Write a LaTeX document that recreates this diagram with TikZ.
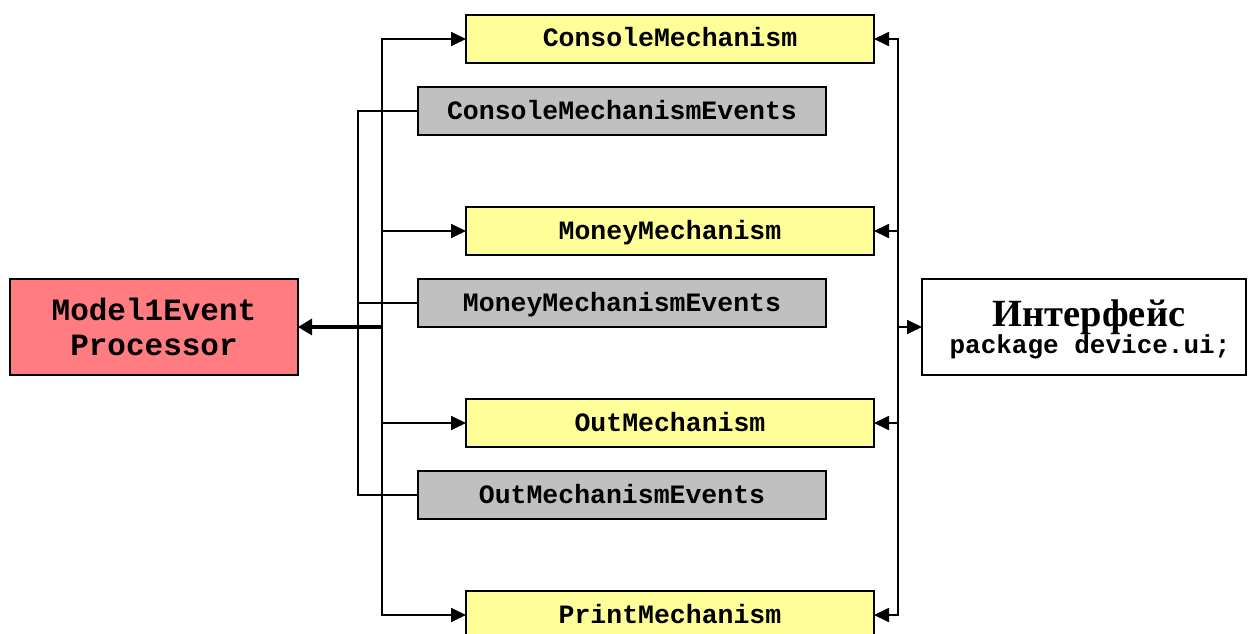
\documentclass[tikz,border=0pt]{standalone}
\usepackage{fontspec}
\setmonofont{Liberation Mono}
\newfontfamily\uiserif{Liberation Serif}
\usetikzlibrary{arrows.meta}
\definecolor{mechyellow}{HTML}{FFFF99}
\definecolor{evgray}{HTML}{C0C0C0}
\definecolor{procred}{HTML}{FF7C80}
\tikzset{
  box/.style={draw=black, line width=1.8pt, outer sep=0pt, inner sep=0pt,
    font=\ttfamily\bfseries\fontsize{26.5}{28}\selectfont, text height=18pt, text depth=2pt},
  mech/.style={box, fill=mechyellow, minimum width=408pt, minimum height=48pt},
  evbox/.style={box, fill=evgray, minimum width=408pt, minimum height=48pt},
  conn/.style={line width=1.8pt, -{Triangle[length=15pt,width=14pt]}},
  plain/.style={line width=1.8pt},
  thickconn/.style={line width=3.2pt, -{Triangle[length=14pt,width=16pt]}},
}
\begin{document}
\begin{tikzpicture}[x=1pt,y=-1pt]
\useasboundingbox (0,0) rectangle (1248,634);
\fill[white] (0,0) rectangle (1248,634);
% mechanisms
\node[mech] (cm) at (670,39) {ConsoleMechanism};
\node[mech] (mm) at (670,231) {MoneyMechanism};
\node[mech] (om) at (670,423) {OutMechanism};
\node[mech] (pm) at (670,615) {PrintMechanism};
% events
\node[evbox] (cme) at (622,111) {ConsoleMechanismEvents};
\node[evbox] (mme) at (622,303) {MoneyMechanismEvents};
\node[evbox] (ome) at (622,495) {OutMechanismEvents};
% processor
\node[draw=black, line width=1.8pt, fill=procred, minimum width=288pt, minimum height=96pt,
  outer sep=0pt, inner sep=0pt, align=center,
  font=\ttfamily\bfseries\fontsize{31}{35}\selectfont] (proc) at (154,327) {Model1Event\\Processor};
% interface
\node[draw=black, line width=1.8pt, fill=white, minimum width=324pt, minimum height=96pt,
  outer sep=0pt] (ui) at (1084,327) {};
\node[anchor=base, inner sep=0pt, font=\uiserif\bfseries\fontsize{38.5}{40}\selectfont] (uit) at (1089,326) {Интерфейс};
\node[anchor=base, inner sep=0pt, font=\ttfamily\bfseries\fontsize{26}{28}\selectfont] (uip) at (1090,353) {package device.ui;};
% bus coordinates
\coordinate (jr) at (382,327);
\coordinate (jl) at (358,327);
\coordinate (rb) at (898,327);
% left bus to mechanisms
\draw[conn] (jr) |- (cm.west);
\draw[conn] (jr) |- (mm.west);
\draw[conn] (jr) |- (om.west);
\draw[conn] (jr) |- (pm.west);
% events bus
\draw[plain] (cme.west) -| (jl);
\draw[plain] (ome.west) -| (jl);
\draw[plain] (mme.west) -- (mme.west -| jl);
% to processor
\draw[thickconn] (jr) -- (proc.east);
% right bus
\draw[conn] (rb) |- (cm.east);
\draw[conn] (rb) |- (mm.east);
\draw[conn] (rb) |- (om.east);
\draw[conn] (rb) |- (pm.east);
\draw[conn] (rb) -- (ui.west);
\end{tikzpicture}
\end{document}
